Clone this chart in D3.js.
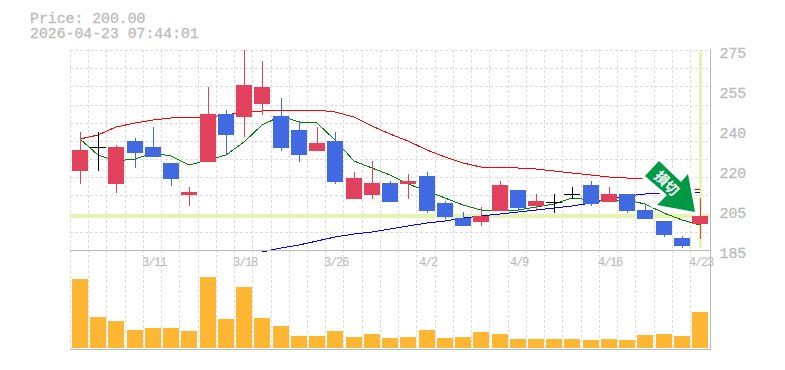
<!DOCTYPE html>
<html>
<head>
<meta charset="utf-8">
<script src="https://cdn.jsdelivr.net/npm/d3@7"></script>
<style>
  html, body { margin: 0; padding: 0; background: #fff; overflow: hidden; }
  text { font-family: "Liberation Mono", "DejaVu Sans Mono", monospace; fill: #bbb; stroke: #bbb; stroke-width: 0.3px; }
</style>
</head>
<body>
<svg id="chart" width="785" height="370"></svg>
<script>
const dates = ["3/5","3/6","3/9","3/10","3/11","3/12","3/13","3/16","3/17","3/18","3/19","3/23","3/24","3/25","3/26","3/27","3/30","3/31","4/1","4/2","4/3","4/6","4/7","4/8","4/9","4/10","4/13","4/14","4/15","4/16","4/17","4/20","4/21","4/22","4/23"];
const open = [220.55,231.35,214.7,234.05,231.35,224.15,209.75,224.6,246.2,244.85,250.7,245.3,239,229.55,234.05,207.95,209.75,215.15,214.7,218.3,206.15,199.4,197.6,202.55,212,204.8,206.6,210.2,214.25,206.6,210.2,203,198.05,190.4,196.7];
const high = [238.1,238.1,232.25,235.4,240.35,224.15,213.35,258.35,248,275,270.05,253.4,243.05,240.35,238.1,220.1,225.05,216.05,219.2,220.1,207.05,202.1,204.35,216.05,212,210.2,210.2,213.35,216.05,213.35,210.2,205.25,198.05,191.3,208.4];
const low = [214.7,220.55,210.65,221.9,226.85,213.8,204.8,224.6,227.75,235.85,245.75,229.55,224.6,229.55,214.7,207.95,207.95,206.6,207.95,201.65,198.95,195.8,195.8,202.55,202.1,202.55,201.65,207.95,204.8,206.6,201.65,198.95,190.85,185.9,189.95];
const close = [230,231.35,231.35,228.65,226.85,216.95,211.1,246.2,236.75,259.25,258.35,230.9,227.75,233.15,215.6,217.4,215.15,206.6,216.05,202.55,199.85,195.8,200.3,214.25,203.9,207.05,206.6,210.2,205.7,210.2,202.55,198.95,191.75,186.8,200];
const volume = [69,31,27,18,20,20,17,71,29,61,30,22,12,12,17,11,14,10,11,18,10,11,16,14,9,9,9,9,8,9,8,13,14,12,36];
const maShort = [234.95,227.75,225.05,225.95,228.65,227.3,223.25,225.5,227.75,233.6,241.25,245.3,242.6,242.15,234.5,225.05,221.9,218.75,214.7,211.55,208.4,205.25,203,202.55,203,204.35,205.7,208.4,207.5,207.5,207.5,205.7,201.65,198.5,196.25];
const maMid = [234.95,236.75,240.35,242.15,243.5,244.4,244.85,244.85,245.75,247.1,247.55,248,248,248,247.1,244.85,240.8,237.2,234.05,230,226.85,224.15,222.35,222.35,221.9,221.45,220.55,219.65,218.75,217.85,217.4,216.95,215.15,213.35,212];
const maLong = [null,null,null,null,null,null,null,null,null,null,184.1,185.9,187.25,189.05,190.85,192.2,193.1,194.45,195.8,197.15,198.05,199.4,200.3,201.2,202.1,203,203.9,204.8,206.15,207.95,209.3,210.2,210.65,211.1,211.1];
const priceTicks = [275,257,239,221,203,185];
const priceLabels = ["275","255","240","220","205","185"];
const dateLabels = ["3/11","3/18","3/26","4/2","4/9","4/16","4/23"];
const lastPrice = 200;
const stamp = "2026-04-23 07:44:01";

const svg = d3.select("#chart");

const x = d3.scaleBand().domain(dates).range([70.88, 709.28]);
const cx = d => Math.round(x(d) + x.bandwidth() / 2);
const y = d3.scaleLinear().domain([185, 275]).range([250, 50]);
const yVol = d3.scaleLinear().domain([0, 98]).range([348, 250]);
const py = v => Math.floor(y(v) + 0.01);

const red = "#e2415e", blue = "#4169e1", pale = "#e5f4ae", frame = "#bbb", gridColor = "#ddd";

// header
svg.append("text").attr("x", 30).attr("y", 23).style("font-size", "14.8px").text("Price: " + lastPrice.toFixed(2));
svg.append("text").attr("x", 30).attr("y", 38).style("font-size", "14.8px").text(stamp);

// grid
const grid = svg.append("g").attr("stroke", gridColor).attr("stroke-dasharray", "3,2").attr("shape-rendering", "crispEdges");
d3.range(12).forEach(k => {
  const gy = Math.round(50 + k * 200 / 11) + 0.5;
  grid.append("line").attr("x1", 70).attr("x2", 710).attr("y1", gy).attr("y2", gy);
});
d3.range(35).forEach(i => {
  const gx = Math.round(x(dates[i])) - 0.5;
  grid.append("line").attr("x1", gx).attr("x2", gx).attr("y1", 50).attr("y2", 349);
});

// current price and latest day markers
svg.append("rect").attr("x", 70).attr("width", 640).attr("y", py(lastPrice) - 2).attr("height", 4).attr("fill", pale);
svg.append("rect").attr("x", cx("4/23") - 1).attr("width", 3).attr("y", 51).attr("height", 197).attr("fill", pale);

// moving averages
const line = d3.line()
  .defined(d => d != null)
  .x((d, i) => cx(dates[i]))
  .y(d => y(d));
[[maMid, "#f00"], [maLong, "#00f"], [maShort, "#008000"]].forEach(([vals, color]) => {
  svg.append("path").attr("d", line(vals)).attr("fill", "none").attr("stroke", color)
    .attr("stroke-width", 1).attr("shape-rendering", "crispEdges");
});

// stop-loss arrow outline, knocks out the averages behind it
const tipX = cx("4/23") - 5, tipY = py(lastPrice) - 4;
const arrowShape = "M-36,-51 L-14,-30 L-7,-38 L0,0 L-38,-7 L-28,-17 L-50,-36 Z";
svg.append("path").attr("transform", `translate(${tipX},${tipY})`)
  .attr("d", arrowShape).attr("fill", "#fff").attr("stroke", "#fff").attr("stroke-width", 7);

// candles
const candleColor = i => close[i] > open[i] ? red : close[i] < open[i] ? blue : "#000";
const candles = svg.append("g").attr("shape-rendering", "crispEdges");
dates.forEach((d, i) => {
  const c = cx(d), color = candleColor(i);
  candles.append("rect").attr("x", c).attr("width", 1)
    .attr("y", py(high[i])).attr("height", py(low[i]) - py(high[i])).attr("fill", color);
  const top = py(Math.max(open[i], close[i])), bottom = py(Math.min(open[i], close[i]));
  candles.append("rect").attr("x", c - 8).attr("width", 16)
    .attr("y", top).attr("height", Math.max(bottom - top, 1)).attr("fill", color);
});

// volume
svg.append("g").attr("fill", "#ffb733").attr("shape-rendering", "crispEdges")
  .selectAll("rect").data(volume).join("rect")
  .attr("x", (d, i) => cx(dates[i]) - 8).attr("width", 16)
  .attr("y", d => Math.round(yVol(d))).attr("height", d => 348 - Math.round(yVol(d)));

// frame
const frameG = svg.append("g").attr("stroke", frame).attr("shape-rendering", "crispEdges");
frameG.append("line").attr("x1", 70).attr("x2", 711).attr("y1", 250.5).attr("y2", 250.5);
frameG.append("line").attr("x1", 70).attr("x2", 711).attr("y1", 349.5).attr("y2", 349.5);
frameG.append("line").attr("x1", 710.5).attr("x2", 710.5).attr("y1", 50).attr("y2", 350);

// axis labels
svg.append("g").selectAll("text").data(priceTicks).join("text")
  .attr("x", 719.5).attr("y", d => Math.round(y(d)) + 8)
  .style("font-size", "14.8px")
  .text((d, i) => priceLabels[i]);
svg.append("g").selectAll("text").data(dateLabels).join("text")
  .attr("x", d => cx(d) + 1).attr("y", 266).attr("text-anchor", "middle")
  .style("font-size", "12px").style("letter-spacing", "-1.2px").style("stroke-width", "0.1px")
  .text(d => d);

// arrow on top of everything
const arrow = svg.append("g").attr("transform", `translate(${tipX},${tipY})`);
arrow.append("path").attr("d", arrowShape).attr("fill", "#009944");
arrow.append("text")
  .attr("transform", "translate(-28.5,-28.5) rotate(45)")
  .attr("text-anchor", "middle").attr("dy", "0.35em")
  .style("font-family", "'Noto Sans CJK JP'").style("font-size", "14px").style("font-weight", "700")
  .style("fill", "#fff").style("stroke", "none")
  .text("損切");
</script>
</body>
</html>
